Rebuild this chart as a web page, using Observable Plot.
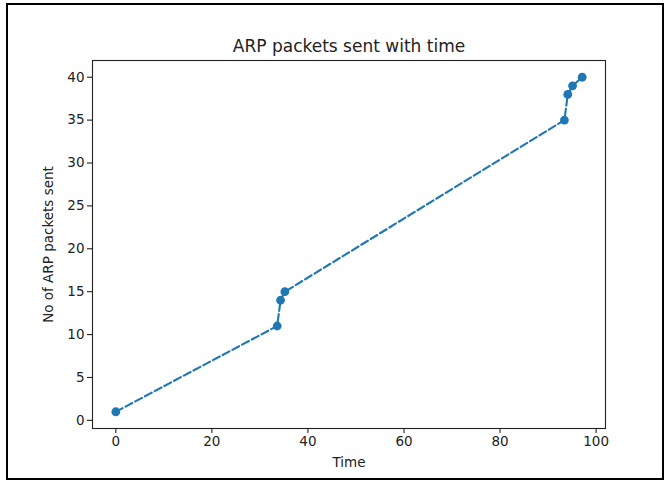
<!DOCTYPE html>
<html>
<head>
<meta charset="utf-8">
<script src="https://cdn.jsdelivr.net/npm/d3@7"></script>
<script src="https://cdn.jsdelivr.net/npm/@observablehq/plot@0.6"></script>
<style>
  html, body { margin: 0; padding: 0; background: white; }
  #wrap { position: relative; width: 665px; height: 480px; overflow: hidden; }
  #border { position: absolute; left: 6px; top: 3px; width: 658px; height: 477px;
            box-sizing: border-box; border: 2px solid black; pointer-events: none; }
</style>
</head>
<body>
<div id="wrap"><div id="border"></div></div>
<script>
const times = [0, 33.6, 34.3, 35.2, 93.4, 94.1, 95.1, 97.1];
const packets = [1, 11, 14, 15, 35, 38, 39, 40];
const xTicks = [0, 20, 40, 60, 80, 100];
const yTicks = [0, 5, 10, 15, 20, 25, 30, 35, 40];
const title = "ARP packets sent with time";
const xLabel = "Time";
const yLabel = "No of ARP packets sent";

const data = times.map((t, i) => ({time: t, packets: packets[i]}));
const xr = d3.extent(times), yr = d3.extent(packets);
const xm = (xr[1] - xr[0]) * 0.05, ym = (yr[1] - yr[0]) * 0.05;
const blue = "#1f77b4";

const chart = Plot.plot({
  width: 665,
  height: 480,
  marginLeft: 92,
  marginRight: 60,
  marginTop: 60,
  marginBottom: 52,
  style: {fontFamily: "DejaVu Sans", fontSize: "13.5px", background: "transparent", color: "#222"},
  x: {domain: [xr[0] - xm, xr[1] + xm]},
  y: {domain: [yr[0] - ym, yr[1] + ym]},
  marks: [
    Plot.axisX(xTicks, {tickSize: 5, tickPadding: 3, label: null, stroke: "#222", fill: "#222", strokeWidth: 1.1}),
    Plot.axisY(yTicks, {tickSize: 5, tickPadding: 3, label: null, stroke: "#222", fill: "#222", strokeWidth: 1.1}),
    Plot.line(data, {x: "time", y: "packets", stroke: blue, strokeWidth: 2.1, strokeDasharray: "7.7,3.3"}),
    Plot.dot(data, {x: "time", y: "packets", r: 4.4, fill: blue, stroke: null}),
    Plot.frame({stroke: "#222", strokeWidth: 1.1}),
    Plot.text([title], {frameAnchor: "top", lineAnchor: "middle", textAnchor: "middle", dy: -14, fontSize: 17, fill: "#222"}),
    Plot.text([xLabel], {frameAnchor: "bottom", lineAnchor: "middle", textAnchor: "middle", dy: 34, fontSize: 13.5, fill: "#222"}),
    Plot.text([yLabel], {frameAnchor: "left", lineAnchor: "middle", textAnchor: "middle", rotate: -90, dx: -44, fontSize: 13.5, fill: "#222"})
  ]
});
document.getElementById("wrap").prepend(chart);
</script>
</body>
</html>
